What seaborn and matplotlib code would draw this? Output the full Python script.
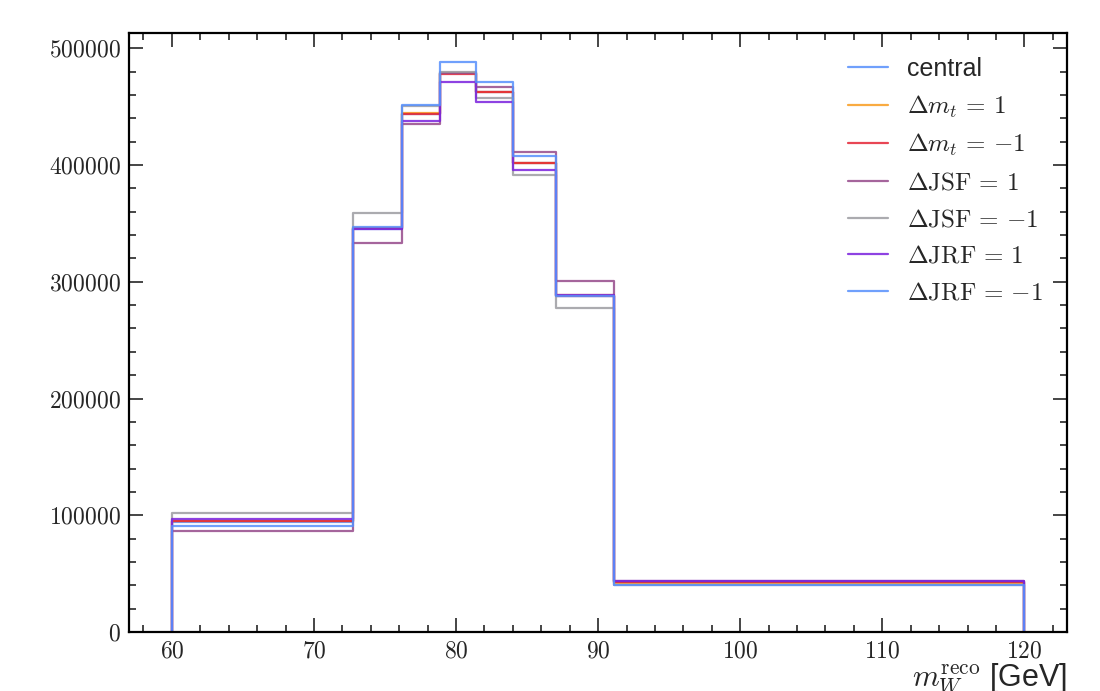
import numpy as np
import pandas as pd
import matplotlib
matplotlib.use("Agg")
import matplotlib.pyplot as plt
from matplotlib.ticker import MultipleLocator, FuncFormatter
import seaborn as sns

# ---- data ----
bin_edges = [60.0, 72.75, 76.2, 78.9, 81.4, 84.0, 87.0, 91.1, 120.0]
series_names = ["central", "mt_up", "mt_down", "jsf_up", "jsf_down", "jrf_up", "jrf_down"]
series_labels = ["central", r"$\Delta m_t\,=\,1$", r"$\Delta m_t\,=\,{-1}$",
                 r"$\Delta\mathrm{JSF}\,=\,1$", r"$\Delta\mathrm{JSF}\,=\,{-1}$",
                 r"$\Delta\mathrm{JRF}\,=\,1$", r"$\Delta\mathrm{JRF}\,=\,{-1}$"]
central  = [94500, 345500, 444000, 478500, 462500, 402000, 288000, 42500]
mt_up    = [95000, 346000, 444500, 479000, 463000, 401500, 288500, 42300]
mt_down  = [94700, 345800, 444000, 478300, 462500, 401800, 288200, 42500]
jsf_up   = [86600, 333600, 435000, 478500, 467000, 411300, 300300, 43500]
jsf_down = [101900, 359300, 450500, 480000, 457500, 391300, 277300, 40300]
jrf_up   = [97000, 345600, 437800, 470800, 454000, 395800, 288800, 44000]
jrf_down = [90500, 347000, 451800, 488300, 471200, 408000, 287500, 40500]
colors = ["#5790fc", "#f89c20", "#e42536", "#964a8b", "#9c9ca1", "#7a21dd", "#5790fc"]
y_ticks = [0, 100000, 200000, 300000, 400000, 500000]
x_ticks = [60, 70, 80, 90, 100, 110, 120]

values = dict(zip(series_names, [central, mt_up, mt_down, jsf_up, jsf_down, jrf_up, jrf_down]))

# build step outlines (closed to zero at both ends) from edges + values
rows = []
for name in series_names:
    v = values[name]
    xs = [bin_edges[0]] + list(bin_edges)
    ys = [0] + list(v) + [0]
    for i, (xx, yy) in enumerate(zip(xs, ys)):
        rows.append({"x": xx, "y": yy, "series": name, "order": i})
df = pd.DataFrame(rows)

sns.set_style("ticks")
plt.rcParams["font.family"] = ["Liberation Sans", "DejaVu Sans"]
plt.rcParams["mathtext.fontset"] = "cm"

fig = plt.figure(figsize=(11, 6.91), dpi=100)
ax = fig.add_axes([0.1175, 0.0854, 0.8525, 0.8666])

palette = dict(zip(series_names, colors))
sns.lineplot(data=df, x="x", y="y", hue="series", hue_order=series_names,
             palette=palette, estimator=None, sort=False, units="series",
             drawstyle="steps-post", linewidth=1.6, alpha=0.85, ax=ax, legend=False)

ax.set_xlim(57, 123)
ax.set_ylim(0, 513000)
ax.set_xticks(x_ticks)
ax.set_yticks(y_ticks)
ax.xaxis.set_minor_locator(MultipleLocator(2))
ax.yaxis.set_minor_locator(MultipleLocator(20000))
fmt = FuncFormatter(lambda v, p: f"${int(round(v))}$")
ax.xaxis.set_major_formatter(fmt)
ax.yaxis.set_major_formatter(fmt)
ax.tick_params(which="both", direction="in", top=True, right=True, labelsize=17, width=1.2)
ax.tick_params(which="major", length=10, pad=6)
ax.tick_params(which="minor", length=5)
for s in ax.spines.values():
    s.set_linewidth(1.6)
    s.set_color("black")

ax.set_xlabel(r"$m_{W}^{\mathrm{reco}}$ [GeV]", loc="right", fontsize=22, labelpad=0)
ax.set_ylabel("")

handles = ax.get_lines()[:len(series_names)]
leg = ax.legend(handles, series_labels, loc="upper right", frameon=False, fontsize=18,
                handlelength=1.6, handletextpad=0.75, labelspacing=0.5,
                bbox_to_anchor=(0.998, 0.998))

fig.savefig("out.png", dpi=100)
